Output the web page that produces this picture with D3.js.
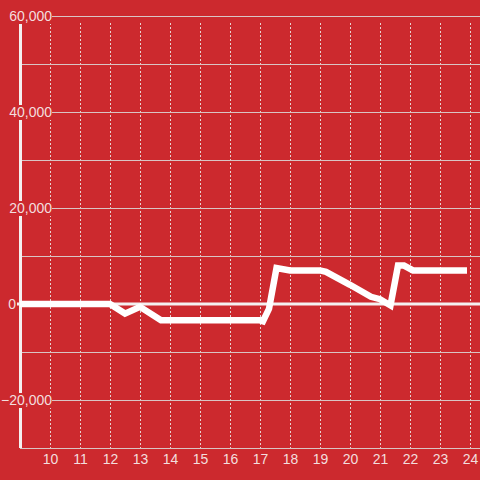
<!DOCTYPE html>
<html>
<head>
<meta charset="utf-8">
<script src="https://cdn.jsdelivr.net/npm/d3@7"></script>
<style>
  body { margin: 0; background: #cc292e; }
  svg { display: block; font-family: "Liberation Sans", Arial, sans-serif; }
</style>
</head>
<body>
<figure id="chart" style="margin:0"></figure>
<script>
// hour of day
const hours = [9, 12, 12.5, 13, 13.7, 17, 17.1, 17.3, 17.55, 18, 19, 19.2, 20, 20.7, 21, 21.35, 21.6, 21.8, 22.1, 23.9];
const values = [0, 0, -2000, -600, -3400, -3400, -3600, -1000, 7500, 7000, 7000, 6700, 4000, 1500, 1000, -300, 8000, 8000, 7000, 7000];
const xTicks = [10, 11, 12, 13, 14, 15, 16, 17, 18, 19, 20, 21, 22, 23, 24];
const yGrid = [-20000, -10000, 10000, 20000, 30000, 40000, 50000, 60000];
const yLabels = [60000, 40000, 20000, -20000];

const width = 480, height = 480;
const bg = '#cc292e';

const svg = d3.select('figure#chart')
  .append('svg')
  .attr('width', width)
  .attr('height', height);

svg.append('rect').attr('width', width).attr('height', height).attr('fill', bg);

const x = d3.scaleLinear().domain([9, 24 + 1 / 3]).range([20, 480]);
const y = d3.scaleLinear().domain([-30000, 60000]).range([448, 16]);

// vertical dashed grid
svg.append('g')
  .selectAll('line')
  .data(xTicks)
  .enter()
  .append('line')
  .attr('x1', d => x(d) + 0.5).attr('x2', d => x(d) + 0.5)
  .attr('y1', 23).attr('y2', y(-30000))
  .attr('stroke', '#e6d2d2')
  .attr('stroke-width', 1)
  .attr('stroke-dasharray', '2,2');

// horizontal grid
svg.append('g')
  .selectAll('line')
  .data(yGrid)
  .enter()
  .append('line')
  .attr('x1', x(9)).attr('x2', width)
  .attr('y1', d => y(d) + 0.5).attr('y2', d => y(d) + 0.5)
  .attr('stroke', '#d9c4c4')
  .attr('stroke-width', 1);

// bottom axis
const xAxis = svg.append('g')
  .attr('transform', `translate(0,${y(-30000)})`)
  .call(d3.axisBottom(x).tickValues(xTicks).tickSize(0).tickPadding(6).tickFormat(d3.format('d')));
xAxis.select('.domain').attr('stroke', '#d9c4c4').attr('stroke-width', 1).attr('d', `M${x(9)},0.5H${width}`);
xAxis.selectAll('text')
  .style('font-size', '14px')
  .style('font-family', '"Liberation Sans", Arial, sans-serif')
  .attr('fill', '#f3dede');

// zero line
svg.append('line')
  .attr('x1', 17).attr('x2', width)
  .attr('y1', y(0)).attr('y2', y(0))
  .attr('stroke', '#f4f0f0')
  .attr('stroke-width', 3);

// left axis line
svg.append('line')
  .attr('x1', 20.5).attr('x2', 20.5)
  .attr('y1', 16).attr('y2', y(-30000))
  .attr('stroke', '#f4f0f0')
  .attr('stroke-width', 3);

// y labels with background
const yl = svg.append('g')
  .selectAll('g')
  .data(yLabels)
  .enter()
  .append('g')
  .attr('transform', d => `translate(52,${y(d)})`);
yl.append('rect')
  .attr('x', -50).attr('y', -7).attr('width', 50).attr('height', 15)
  .attr('fill', bg);
yl.append('text')
  .attr('text-anchor', 'end')
  .attr('dy', '0.35em')
  .style('font-size', '14px')
  .attr('fill', '#f3dede')
  .text(d => d3.format(',')(d));

svg.append('text')
  .attr('x', 16).attr('y', y(0))
  .attr('text-anchor', 'end')
  .attr('dy', '0.35em')
  .style('font-size', '14px')
  .attr('fill', '#f3dede')
  .text('0');

// data line
const line = d3.line()
  .x((d, i) => x(hours[i]))
  .y(d => y(d));

svg.append('path')
  .datum(values)
  .attr('d', line)
  .attr('fill', 'none')
  .attr('stroke', '#ffffff')
  .attr('stroke-width', 6.5);
</script>
</body>
</html>
